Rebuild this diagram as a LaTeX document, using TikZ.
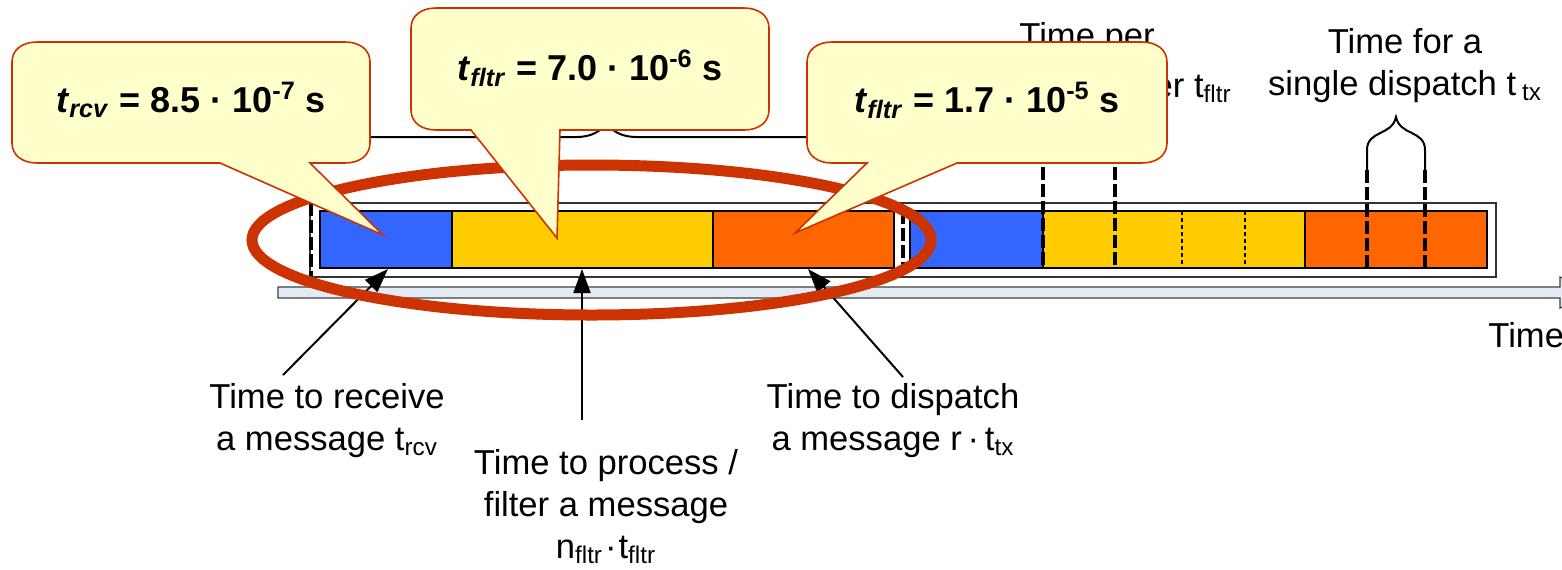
\documentclass[tikz,border=0pt]{standalone}
\usepackage{fontspec}
\setmainfont{Liberation Sans}
\usetikzlibrary{decorations.pathreplacing,arrows.meta}

\definecolor{msgblue}{HTML}{3366FF}
\definecolor{msgyellow}{HTML}{FFCC00}
\definecolor{msgorange}{HTML}{FF6600}
\definecolor{notefill}{HTML}{FFFFCC}
\definecolor{noteedge}{HTML}{CC3300}
\definecolor{ringred}{HTML}{CC3300}
\definecolor{axisfill}{HTML}{E4EBF5}

% speech bubble: left, top, right, bottom, pointer base a, pointer base b, tip x, tip y
\newcommand\notepath[8]{%
  \filldraw[note] (#1,{#4-20}) -- (#1,{#2+20})
    .. controls (#1,{#2+8}) and ({#1+10},#2) .. ({#1+25},#2)
    -- ({#3-25},#2) .. controls ({#3-10},#2) and (#3,{#2+8}) .. (#3,{#2+20})
    -- (#3,{#4-20}) .. controls (#3,{#4-8}) and ({#3-10},#4) .. ({#3-25},#4)
    -- (#6,#4) -- (#7,#8) -- (#5,#4)
    -- ({#1+25},#4) .. controls ({#1+10},#4) and (#1,{#4-8}) .. (#1,{#4-20}) -- cycle;}

\begin{document}
\begin{tikzpicture}[x=0.5pt,y=-0.5pt,
  seg/.style={draw=black, line width=1pt},
  frame/.style={draw=black!80, line width=1pt, fill=white},
  cut/.style={line width=1.9pt, dash pattern=on 6.5pt off 2pt},
  fine/.style={line width=0.8pt, dash pattern=on 2pt off 1.5pt},
  lbl/.style={font=\fontsize{17.3}{21}\selectfont, align=center, inner sep=0pt},
  val/.style={font=\fontsize{18}{22}\selectfont\bfseries, inner sep=0pt},
  note/.style={fill=notefill, draw=noteedge, line width=0.8pt},
  ring/.style={draw=ringred, line width=5.5pt},
  pointer/.style={-{Triangle[length=12pt,width=8.5pt]}, line width=1pt},
  bracket/.style={line width=1pt}]
\useasboundingbox (0,0) rectangle (1562,569);

% time axis
\filldraw[fill=axisfill, draw=black!75, line width=0.6pt]
  (278,287) -- (1560,287) -- (1560,277) -- (1600,292.5) -- (1560,308)
  -- (1560,298) -- (278,298) -- cycle;
\node[lbl, anchor=base west] (axislbl) at (1488,347) {Time};

% frame around two consecutive messages
\draw[frame] (310,203) rectangle (1496,277);

% first message: receive, filter, dispatch
\filldraw[seg, fill=msgblue]   (320,211) rectangle (452,268);
\filldraw[seg, fill=msgyellow] (452,211) rectangle (713,268);
\filldraw[seg, fill=msgorange] (713,211) rectangle (894,268);
% second message
\filldraw[seg, fill=msgblue]   (910,211) rectangle (1043,268);
\filldraw[seg, fill=msgyellow] (1043,211) rectangle (1305,268);
\filldraw[seg, fill=msgorange] (1305,211) rectangle (1487,268);

% message boundaries and per-step marks
\draw[cut] (311,203) -- (311,276);
\draw[cut] (903,211) -- (903,268);
\draw[cut] (1043,150) -- (1043,268);
\draw[cut] (1115,150) -- (1115,268);
\draw[fine] (1182,211) -- (1182,268);
\draw[fine] (1245,211) -- (1245,268);
\draw[cut] (1367,170) -- (1367,268);
\draw[cut] (1425,170) -- (1425,268);

% brace over one whole message
\draw[bracket, decorate, decoration={brace, amplitude=15pt}] (310,152) -- (903,152);

% brace over one filter step
\draw[bracket] (1043,150) -- (1043,130) .. controls (1043,112) and (1074,120) .. (1079,100)
  .. controls (1084,120) and (1115,112) .. (1115,130) -- (1115,150);
% brace over one dispatch
\draw[bracket] (1367,172) -- (1367,150) .. controls (1367,130) and (1392,136) .. (1396,117)
  .. controls (1400,136) and (1425,130) .. (1425,150) -- (1425,172);

% labels (base anchor = baseline of the last line)
\node[lbl, anchor=base] (perflt) at (1087,47) {Time per};
\node[lbl, anchor=base east] (perflt2) at (1232,97) {filter t\textsubscript{fltr}};
\node[lbl, anchor=base] (single) at (1405,95) {Time for a\\single dispatch t\,\textsubscript{tx}};
\node[lbl, anchor=base] (recv) at (327,450) {Time to receive\\a message t\textsubscript{rcv}};
\node[lbl, anchor=base] (proc) at (606,558) {Time to process /\\filter a message\\n\textsubscript{fltr}\kern1pt·\kern1pt t\textsubscript{fltr}};
\node[lbl, anchor=base] (disp) at (893,450) {Time to dispatch\\a message r\,·\,t\textsubscript{tx}};

% arrows from labels to the steps
\coordinate (recvfoot) at (283,375);
\coordinate (recvtip) at (388,269);
\coordinate (procfoot) at (582,420);
\coordinate (proctip) at (582,269);
\coordinate (dispfoot) at (903,377);
\coordinate (disptip) at (808,269);
\draw[pointer] (recvfoot) -- (recvtip);
\draw[pointer] (procfoot) -- (proctip);
\draw[pointer] (dispfoot) -- (disptip);

% highlight ring around the first message
\draw[ring] (591.5,240) ellipse [x radius=339.5, y radius=75];

% measured values
\notepath{12}{42}{370}{163}{220}{310}{383}{235}
\node[val, anchor=base] (vrcv) at (191,112)
  {\textit{t}\textsubscript{\textit{rcv}} = 8.5 · 10\textsuperscript{-7} s};
\notepath{411}{8}{769}{130}{471}{560}{557}{238}
\node[val, anchor=base] (vflt) at (590,80)
  {\textit{t}\textsubscript{\textit{fltr}} = 7.0 · 10\textsuperscript{-6} s};
\notepath{807}{42}{1167}{163}{867}{957}{795}{233}
\node[val, anchor=base] (vtx) at (987,112)
  {\textit{t}\textsubscript{\textit{fltr}} = 1.7 · 10\textsuperscript{-5} s};
\end{tikzpicture}
\end{document}
